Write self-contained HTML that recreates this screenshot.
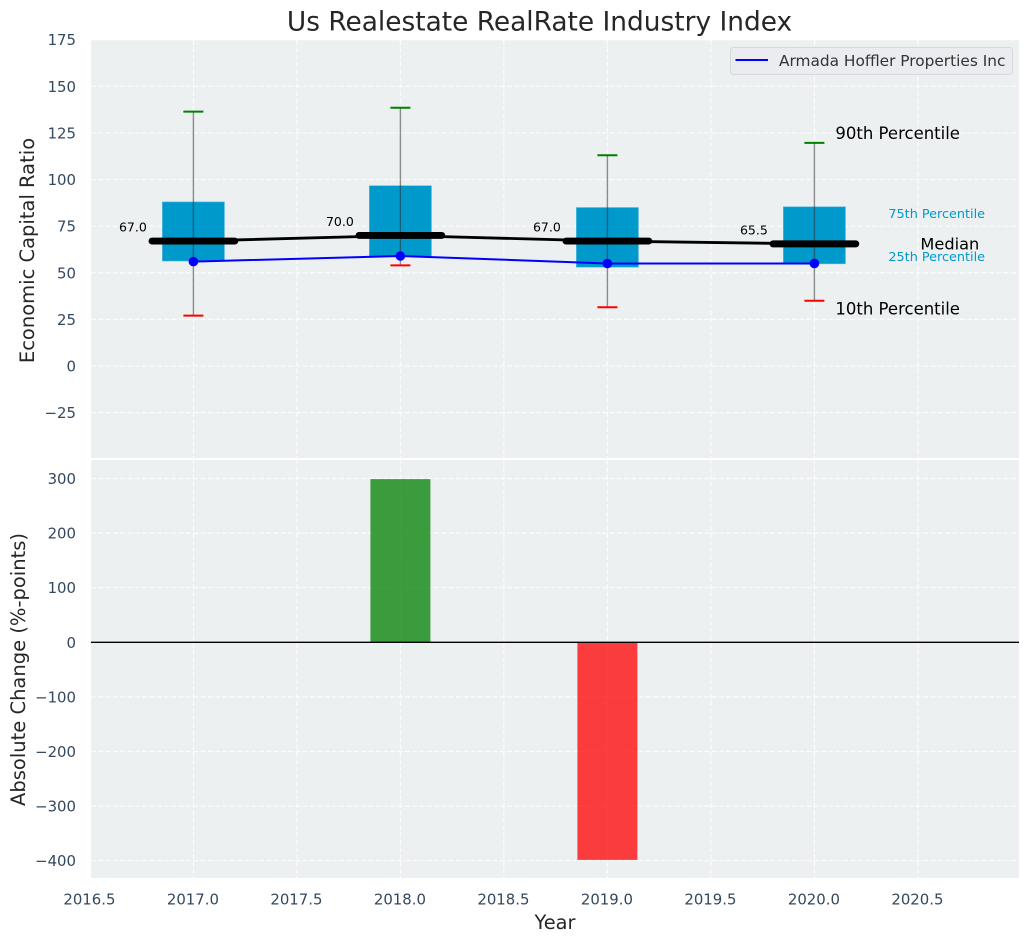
<!DOCTYPE html>
<html>
<head>
<meta charset="utf-8">
<style>
html,body{margin:0;padding:0;background:#fff;width:1029px;height:942px;overflow:hidden}
svg{display:block;font-family:"DejaVu Sans","Liberation Sans",sans-serif}
</style>
</head>
<body>
<svg id="chart" xmlns="http://www.w3.org/2000/svg" width="1029" height="942" viewBox="0 0 1029 942"></svg>
<script>
const years = [2017, 2018, 2019, 2020];
const p10 = [27, 54, 31.5, 35];
const p25 = [56.3, 58.6, 53, 54.8];
const medians = [67, 70, 67, 65.5];
const p75 = [88, 96.7, 85, 85.4];
const p90 = [136.4, 138.5, 113, 119.7];
const company = [56, 59, 55, 55];
const changes = [0, 300, -400, 0];
const xTicks = [2016.5, 2017, 2017.5, 2018, 2018.5, 2019, 2019.5, 2020, 2020.5];
const yTicksTop = [-25, 0, 25, 50, 75, 100, 125, 150, 175];
const yTicksBottom = [-400, -300, -200, -100, 0, 100, 200, 300];
const companyName = 'Armada Hoffler Properties Inc';

const NS = 'http://www.w3.org/2000/svg';
const svg = document.getElementById('chart');
const L = 91, R = 1019, T1 = 40, B1 = 458, T2 = 460, B2 = 878;
const x = v => 193.4 + (v - 2017) * 207;
const y1 = v => 366 - v * 1.8645;
const y2 = v => 642.3 - v * 0.5440;

function mk(tag, attrs, parent, text) {
  const el = document.createElementNS(NS, tag);
  for (const k in attrs) el.setAttribute(k, attrs[k]);
  if (text !== undefined) el.textContent = text;
  (parent || svg).appendChild(el);
  return el;
}
function fmtTick(v) { return v < 0 ? '\u2212' + Math.abs(v) : String(v); }

const defsEl = mk('defs', {});
const c1 = mk('clipPath', { id: 'clip-top' }, defsEl);
mk('rect', { x: L, y: T1, width: R - L, height: B1 - T1 }, c1);
const c2 = mk('clipPath', { id: 'clip-bottom' }, defsEl);
mk('rect', { x: L, y: T2, width: R - L, height: B2 - T2 }, c2);

const bgTop = mk('rect', { x: L, y: T1, width: R - L, height: B1 - T1, fill: '#ecf0f1' });


const bgBottom = mk('rect', { x: L, y: T2, width: R - L, height: B2 - T2, fill: '#ecf0f1' });



const gridTop = mk('g', { 'clip-path': 'url(#clip-top)', stroke: '#fff', 'stroke-width': 1.2, 'stroke-dasharray': '5.1 2.2', opacity: 0.85 });


const gridBottom = mk('g', { 'clip-path': 'url(#clip-bottom)', stroke: '#fff', 'stroke-width': 1.2, 'stroke-dasharray': '5.1 2.2', opacity: 0.85 });



xTicks.forEach(t => {
  mk('line', { x1: x(t), x2: x(t), y1: T1, y2: B1 }, gridTop);
  mk('line', { x1: x(t), x2: x(t), y1: T2, y2: B2 }, gridBottom);
  const lab = mk('text', { x: x(t) - 0.5, y: 904.5, 'text-anchor': 'middle', 'font-size': 14.9, fill: '#34495e' }, svg, t.toFixed(1));
  
  
});
yTicksTop.forEach(t => {
  mk('line', { x1: L, x2: R, y1: y1(t), y2: y1(t) }, gridTop);
  const lab = mk('text', { x: 76, y: y1(t) + 5.5, 'text-anchor': 'end', 'font-size': 14.9, fill: '#34495e' }, svg, fmtTick(t));
  
  
});
yTicksBottom.forEach(t => {
  mk('line', { x1: L, x2: R, y1: 642.3 - t * 0.546, y2: 642.3 - t * 0.546 }, gridBottom);
  const lab = mk('text', { x: 76, y: 642.3 - t * 0.546 + 5.5, 'text-anchor': 'end', 'font-size': 14.9, fill: '#34495e' }, svg, fmtTick(t));
  
  
});

const topPanel = mk('g', { 'clip-path': 'url(#clip-top)' });



years.forEach((yr, i) => {
  const box = mk('rect', { x: x(yr - 0.15), y: y1(p75[i]), width: x(yr + 0.15) - x(yr - 0.15), height: y1(p25[i]) - y1(p75[i]), fill: '#0099cc', stroke: '#5bbbdc', 'stroke-width': 0.6 }, topPanel);
  
  
});
years.forEach((yr, i) => {
  const wh = mk('line', { x1: x(yr), x2: x(yr), y1: y1(p90[i]), y2: y1(p10[i]), stroke: '#333', 'stroke-opacity': 0.55, 'stroke-width': 1.4 }, topPanel);
  
  
  const capHi = mk('line', { x1: x(yr) - 10, x2: x(yr) + 10, y1: y1(p90[i]), y2: y1(p90[i]), stroke: '#008000', 'stroke-width': 2 }, topPanel);
  
  
  const capLo = mk('line', { x1: x(yr) - 10, x2: x(yr) + 10, y1: y1(p10[i]), y2: y1(p10[i]), stroke: '#ff0000', 'stroke-width': 2 }, topPanel);
  
  
});

const medLine = mk('polyline', { points: years.map((yr, i) => x(yr) + ',' + y1(medians[i])).join(' '), fill: 'none', stroke: '#000', 'stroke-width': 2.8 }, topPanel);



years.forEach((yr, i) => {
  const m = mk('line', { x1: x(yr - 0.2), x2: x(yr + 0.2), y1: y1(medians[i]), y2: y1(medians[i]), stroke: '#000', 'stroke-width': 6.9, 'stroke-linecap': 'round' }, topPanel);
  
  
  const lab = mk('text', { x: x(yr) - 60.5, y: y1(medians[i]) - 9.5, 'text-anchor': 'middle', 'font-size': 12.5, fill: '#000' }, topPanel, medians[i].toFixed(1));
  
  
});

const coLine = mk('polyline', { points: years.map((yr, i) => x(yr) + ',' + y1(company[i])).join(' '), fill: 'none', stroke: '#0000ff', 'stroke-width': 2 }, topPanel);


years.forEach((yr, i) => {
  const p = mk('circle', { cx: x(yr), cy: y1(company[i]), r: 4.8, fill: '#0000ff' }, topPanel);
  
  
});

const lastIdx = years.length - 1;
const ax = x(years[lastIdx]);
function note(label, dx, yv, size, color, name) {
  const t = mk('text', { x: ax + dx, y: y1(yv), 'font-size': size, fill: color }, svg, label);
  
  
}
note('90th Percentile', 21, 121.8, 16.5, '#000', 'p90-annotation');
note('10th Percentile', 21, 27.5, 16.5, '#000', 'p10-annotation');
note('Median', 106, 62.5, 16.2, '#000', 'median-annotation');
note('75th Percentile', 74, 79.5, 12.8, '#0099cc', 'p75-annotation');
note('25th Percentile', 74, 56.3, 12.8, '#0099cc', 'p25-annotation');

const legendBox = mk('g', {});


mk('rect', { x: 730.5, y: 47.5, width: 282, height: 27, rx: 3, fill: '#eaecf0', stroke: '#d5d8dc', 'stroke-width': 1 }, legendBox);
mk('line', { x1: 735.5, x2: 768, y1: 60, y2: 60, stroke: '#0000ff', 'stroke-width': 2 }, legendBox);
const legendText = mk('text', { x: 779, y: 66, 'font-size': 15.35, fill: '#333' }, legendBox, companyName);



const bottomPanel = mk('g', { 'clip-path': 'url(#clip-bottom)' });


years.forEach((yr, i) => {
  if (changes[i] === 0) return;
  const yTop = Math.min(y2(changes[i]), y2(0));
  const h = Math.abs(y2(changes[i]) - y2(0));
  const b = mk('rect', { x: x(yr) - 30, y: yTop, width: 60, height: h, fill: changes[i] > 0 ? '#008000' : '#ff0000', 'fill-opacity': 0.75 }, bottomPanel);
  
  
});
const zero = mk('line', { x1: L, x2: R, y1: y2(0), y2: y2(0), stroke: '#000', 'stroke-width': 1.4 }, bottomPanel);



const chartTitle = mk('text', { x: 539.5, y: 30.5, 'text-anchor': 'middle', 'font-size': 26.4, fill: '#262626' }, svg, 'Us Realestate RealRate Industry Index');


const xTitle = mk('text', { x: 555, y: 929, 'text-anchor': 'middle', 'font-size': 19.4, fill: '#262626' }, svg, 'Year');


const yTitleTop = mk('text', { transform: 'translate(34,250.5) rotate(-90)', 'text-anchor': 'middle', 'font-size': 19.5, fill: '#262626' }, svg, 'Economic Capital Ratio');


const yTitleBottom = mk('text', { transform: 'translate(25,669.5) rotate(-90)', 'text-anchor': 'middle', 'font-size': 19.5, fill: '#262626' }, svg, 'Absolute Change (%-points)');


</script>
</body>
</html>
